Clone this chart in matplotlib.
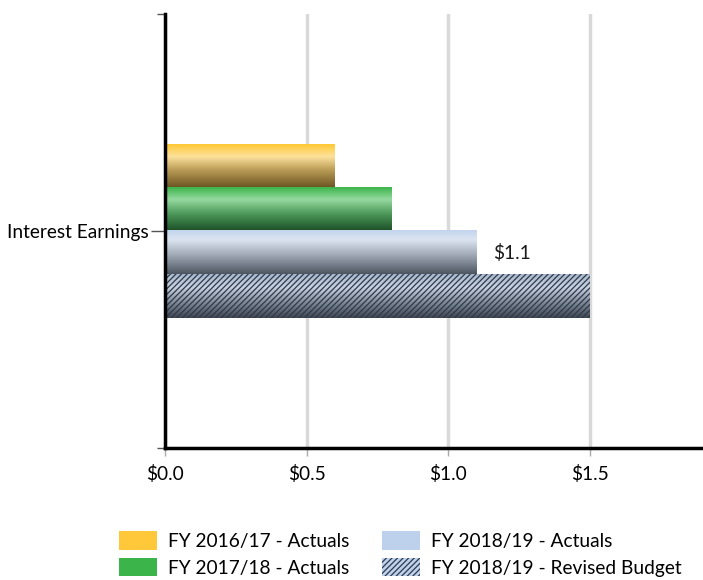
import matplotlib
matplotlib.use("Agg")
import matplotlib.pyplot as plt
import numpy as np
from matplotlib.colors import LinearSegmentedColormap
from matplotlib.patches import Patch

plt.rcParams['font.family'] = ['Lato', 'DejaVu Sans']
plt.rcParams['hatch.linewidth'] = 0.9

category = "Interest Earnings"
series = ["FY 2016/17 - Actuals", "FY 2017/18 - Actuals",
          "FY 2018/19 - Actuals", "FY 2018/19 - Revised Budget"]
values = [0.6, 0.8, 1.1, 1.5]
xticks = [0.0, 0.5, 1.0, 1.5]
xticklabels = ["$0.0", "$0.5", "$1.0", "$1.5"]
label_text = "$1.1"

gradients = [
    [(0.0, "#FFC833"), (0.28, "#FDE29C"), (0.6, "#B89A55"), (1.0, "#6A5320")],
    [(0.0, "#3BB54A"), (0.28, "#95D9A0"), (0.6, "#4E9A5B"), (1.0, "#1C4F26")],
    [(0.0, "#C2D4EE"), (0.22, "#DCE4F1"), (0.6, "#9AA3AF"), (1.0, "#4C5560")],
    [(0.0, "#A9B8CC"), (0.3, "#C8D2E0"), (0.6, "#8A94A2"), (1.0, "#3E4650")],
]
legend_colors = ["#FFC83A", "#3BB54A", "#BDD0EC", "#BDD0EC"]

fs = 13.8
fig = plt.figure(figsize=(7.03, 5.8), dpi=100)
ax = fig.add_axes([165/703, 1-448/580, 1-165/703, (448-14)/580])

h = 0.1
offsets = [0.15, 0.05, -0.05, -0.15]
for i, (v, off) in enumerate(zip(values, offsets)):
    cmap = LinearSegmentedColormap.from_list(f"g{i}", gradients[i])
    grad = np.linspace(0, 1, 200).reshape(-1, 1)
    ax.imshow(grad, cmap=cmap, aspect='auto', origin='upper',
              extent=[0, v, off - h/2, off + h/2], zorder=2,
              interpolation='bicubic')
    if i == 3:
        ax.barh(off, v, height=h, facecolor='none', edgecolor='#2E3A4C',
                hatch='//////', linewidth=0, zorder=3)

ax.text(values[2] + 0.06, offsets[2], label_text, va='center', ha='left',
        fontsize=fs, color='#1a1a1a', zorder=4)

ax.set_xlim(0, 1.9)
ax.set_ylim(-0.5, 0.5)
ax.set_xticks(xticks)
ax.set_xticklabels(xticklabels, fontsize=fs)
ax.set_yticks([0])
ax.set_yticklabels([category], fontsize=fs)
ax.set_yticks([-0.5, 0.5], minor=True)
ax.tick_params(axis='y', which='major', length=10, width=1, color='#555555', pad=2)
ax.tick_params(axis='y', which='minor', length=6, width=1, color='#555555')
ax.tick_params(axis='x', which='major', length=6, width=1, color='#aaaaaa', pad=6)

ax.grid(axis='x', color='#D9D9D9', linewidth=2.5, zorder=0)
ax.set_axisbelow(True)
for s in ['top', 'right']:
    ax.spines[s].set_visible(False)
for s in ['left', 'bottom']:
    ax.spines[s].set_linewidth(2.5)
    ax.spines[s].set_color('black')
    ax.spines[s].set_zorder(5)

handles = []
for i, s in enumerate(series):
    if i == 3:
        handles.append(Patch(facecolor=legend_colors[i], edgecolor='#2E3A4C',
                             hatch='//////', linewidth=0, label=s))
    else:
        handles.append(Patch(facecolor=legend_colors[i], linewidth=0, label=s))

fig.legend(handles=handles, loc='center', bbox_to_anchor=(400/703, 1-554/580),
           ncol=2, frameon=False, fontsize=fs, handlelength=2.0,
           handleheight=1.1, columnspacing=1.7, labelspacing=0.4,
           handletextpad=0.55)

fig.savefig("out.png", dpi=100)
